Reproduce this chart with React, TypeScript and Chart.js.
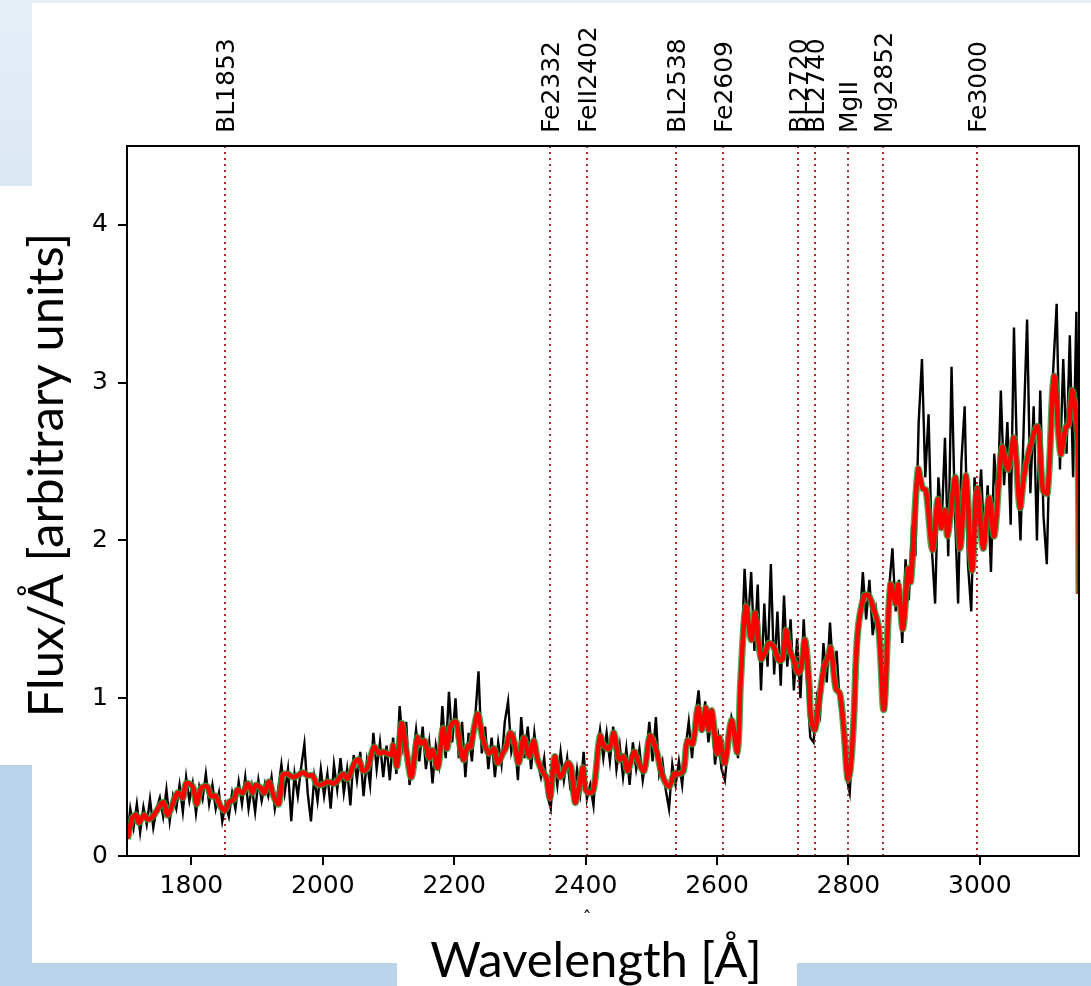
import React, { useEffect, useRef } from "react";
import { Chart, registerables } from "chart.js";

Chart.register(...registerables);

// ---- Data ----
const xTicks = [1800, 2000, 2200, 2400, 2600, 2800, 3000];
const yTicks = [0, 1, 2, 3, 4];

// Observed spectrum, sampled every 5 Å starting at 1702 Å
const obsStart = 1702;
const obsStep = 5;
const obsFlux = [
  0.10, 0.30, 0.18, 0.33, 0.15, 0.31, 0.20, 0.36, 0.18, 0.30,
  0.37, 0.25, 0.42, 0.22, 0.38, 0.30, 0.45, 0.28, 0.50, 0.35,
  0.46, 0.27, 0.44, 0.36, 0.52, 0.33, 0.45, 0.30, 0.40, 0.22,
  0.33, 0.25, 0.40, 0.30, 0.47, 0.33, 0.50, 0.30, 0.44, 0.28,
  0.48, 0.35, 0.46, 0.38, 0.50, 0.30, 0.42, 0.58, 0.40, 0.55,
  0.22, 0.52, 0.38, 0.56, 0.71, 0.40, 0.22, 0.50, 0.35, 0.55,
  0.38, 0.52, 0.30, 0.58, 0.42, 0.62, 0.40, 0.55, 0.32, 0.64,
  0.48, 0.66, 0.38, 0.60, 0.45, 0.78, 0.55, 0.72, 0.50, 0.70,
  0.48, 0.75, 0.52, 0.95, 0.70, 0.85, 0.45, 0.62, 0.80, 0.60,
  0.82, 0.55, 0.72, 0.46, 0.70, 0.58, 0.95, 0.62, 1.04, 0.72,
  1.00, 0.62, 0.85, 0.50, 0.78, 0.60, 0.88, 1.17, 0.65, 0.82,
  0.55, 0.75, 0.50, 0.72, 0.58, 0.85, 0.98, 0.66, 0.75, 0.48,
  0.88, 0.62, 0.82, 0.55, 0.78, 0.60, 0.50, 0.62, 0.38, 0.30,
  0.62, 0.45, 0.66, 0.48, 0.62, 0.42, 0.38, 0.55, 0.40, 0.66,
  0.36, 0.45, 0.32, 0.65, 0.80, 0.62, 0.78, 0.60, 0.82, 0.55,
  0.70, 0.50, 0.68, 0.45, 0.72, 0.55, 0.68, 0.48, 0.62, 0.85,
  0.60, 0.88, 0.52, 0.60, 0.42, 0.30, 0.58, 0.45, 0.60, 0.45,
  0.68, 0.85, 0.62, 0.88, 1.05, 0.78, 0.98, 0.72, 0.90, 0.58,
  0.75, 0.55, 0.48, 0.70, 0.88, 0.80, 0.62, 1.20, 1.82, 1.45,
  1.80, 1.30, 1.72, 1.05, 1.60, 1.20, 1.85, 1.15, 1.55, 1.08,
  1.65, 1.20, 1.50, 1.05, 1.38, 1.00, 1.50, 1.10, 0.75, 0.72,
  1.00, 0.90, 1.35, 1.10, 1.48, 1.15, 1.30, 0.95, 0.82, 0.50,
  0.40, 0.75, 1.20, 1.45, 1.80, 1.50, 1.75, 1.40, 1.55, 1.30,
  1.00, 0.95, 1.70, 1.95, 1.55, 1.75, 1.35, 1.88, 1.62, 2.10,
  1.90, 2.75, 3.15, 2.40, 2.80, 1.95, 1.60, 2.40, 2.10, 2.65,
  1.90, 3.10, 2.20, 1.60, 2.50, 2.85, 1.85, 1.55, 2.40, 2.10,
  2.45, 1.95, 2.35, 1.80, 2.55, 2.20, 2.95, 2.35, 2.75, 2.10,
  3.35, 2.45, 2.00, 2.75, 3.40, 2.30, 2.85, 2.00, 2.95, 2.15,
  1.85, 2.70, 3.10, 3.50, 2.45, 3.15, 2.55, 3.30, 2.40, 3.45,
  1.65,
];

// Model fit (smoothed)
const fitWave = [
  1703, 1710, 1716, 1720, 1728, 1734, 1743, 1757, 1764, 1779, 1787, 1792, 1802, 1808, 1815,
  1824, 1830, 1837, 1845, 1851, 1857, 1865, 1870, 1878, 1886, 1893, 1898, 1906, 1911, 1918,
  1926, 1933, 1939, 1947, 1954, 1962, 1970, 1977, 1985, 1990, 1997, 2008, 2017, 2023, 2031,
  2038, 2048, 2055, 2061, 2068, 2078, 2086, 2093, 2104, 2107, 2113, 2120, 2127, 2135, 2144,
  2149, 2155, 2162, 2167, 2175, 2183, 2189, 2195, 2203, 2207, 2214, 2221, 2225, 2229, 2236,
  2243, 2248, 2253, 2261, 2266, 2274, 2279, 2285, 2291, 2298, 2306, 2314, 2321, 2327, 2335,
  2340, 2346, 2353, 2361, 2373, 2378, 2384, 2390, 2396, 2400, 2408, 2413, 2422, 2428, 2436,
  2443, 2451, 2458, 2464, 2474, 2481, 2489, 2498, 2507, 2517, 2527, 2535, 2542, 2549, 2555,
  2563, 2571, 2577, 2583, 2587, 2592, 2600, 2604, 2612, 2622, 2631, 2636, 2644, 2652, 2658,
  2667, 2674, 2679, 2687, 2694, 2700, 2705, 2711, 2717, 2723, 2728, 2734, 2740, 2743, 2749,
  2755, 2763, 2769, 2773, 2781, 2787, 2793, 2799, 2803, 2808, 2814, 2824, 2831, 2839, 2846,
  2854, 2864, 2872, 2876, 2883, 2891, 2895, 2906, 2913, 2918, 2928, 2936, 2941, 2947, 2951,
  2963, 2970, 2979, 2988, 2996, 3005, 3014, 3022, 3034, 3043, 3052, 3061, 3067, 3075, 3088,
  3096, 3103, 3113, 3123, 3131, 3135, 3141, 3149, 3151,
];
const fitFlux = [
  0.11, 0.24, 0.26, 0.21, 0.26, 0.23, 0.26, 0.34, 0.26, 0.40, 0.37, 0.46, 0.44, 0.33, 0.43,
  0.44, 0.38, 0.38, 0.31, 0.29, 0.34, 0.36, 0.42, 0.40, 0.46, 0.40, 0.45, 0.43, 0.40, 0.47,
  0.37, 0.33, 0.51, 0.52, 0.50, 0.51, 0.53, 0.51, 0.51, 0.46, 0.45, 0.47, 0.46, 0.48, 0.52,
  0.49, 0.59, 0.61, 0.54, 0.56, 0.69, 0.65, 0.66, 0.64, 0.70, 0.57, 0.84, 0.67, 0.50, 0.75,
  0.71, 0.73, 0.62, 0.67, 0.56, 0.81, 0.68, 0.83, 0.85, 0.75, 0.61, 0.70, 0.69, 0.78, 0.90,
  0.75, 0.69, 0.65, 0.68, 0.59, 0.65, 0.69, 0.78, 0.73, 0.59, 0.75, 0.63, 0.73, 0.61, 0.53,
  0.50, 0.37, 0.63, 0.50, 0.59, 0.56, 0.34, 0.44, 0.56, 0.42, 0.40, 0.44, 0.76, 0.70, 0.68,
  0.78, 0.61, 0.63, 0.54, 0.66, 0.59, 0.54, 0.76, 0.68, 0.51, 0.44, 0.52, 0.52, 0.54, 0.73,
  0.71, 0.94, 0.80, 0.94, 0.80, 0.92, 0.65, 0.75, 0.59, 0.86, 0.66, 1.11, 1.58, 1.37, 1.54,
  1.25, 1.30, 1.35, 1.32, 1.24, 1.25, 1.43, 1.30, 1.24, 1.16, 1.19, 1.37, 1.11, 0.88, 0.80,
  0.97, 1.20, 1.26, 1.32, 1.06, 1.03, 0.80, 0.49, 0.55, 0.85, 1.41, 1.65, 1.65, 1.56, 1.45,
  0.93, 1.72, 1.60, 1.72, 1.44, 1.82, 1.74, 2.45, 2.33, 2.32, 1.94, 2.26, 2.08, 2.19, 2.03,
  2.40, 1.95, 2.41, 1.81, 2.33, 1.95, 2.27, 2.03, 2.59, 2.45, 2.65, 2.21, 2.40, 2.57, 2.72,
  2.32, 2.30, 3.04, 2.55, 2.72, 2.73, 2.95, 2.62, 1.66,
];

// Line identifications
const lineLabels = ["BL1853", "Fe2332", "FeII2402", "BL2538", "Fe2609", "BL2720", "BL2740", "MgII", "Mg2852", "Fe3000"];
const lineWaves = [1851, 2346, 2402, 2538, 2609, 2724, 2749, 2800, 2853, 2996];

const xMin = 1702;
const xMax = 3151;
const yMin = 0;
const yMax = 4.5;

const TICK_FONT = "'DejaVu Sans', sans-serif";
const TITLE_FONT = "Lato, 'Open Sans', sans-serif";

export default function App() {
  const canvasRef = useRef<HTMLCanvasElement | null>(null);

  useEffect(() => {
    document.body.style.margin = "0";
    const canvas = canvasRef.current;
    if (!canvas) return;

    const obsData = obsFlux.map((f, i) => ({ x: obsStart + i * obsStep, y: f }));
    const fitData = fitFlux.map((f, i) => ({ x: fitWave[i], y: f }));

    const overlay = {
      id: "overlay",
      afterDatasetsDraw(chart: any) {
        const ctx = chart.ctx;
        const { left, right, top, bottom } = chart.chartArea;
        const xs = chart.scales.x;
        ctx.save();
        // dotted vertical lines
        ctx.strokeStyle = "#b02a2a";
        ctx.lineWidth = 2;
        ctx.setLineDash([2, 4]);
        lineWaves.forEach((w) => {
          const px = Math.round(xs.getPixelForValue(w));
          ctx.beginPath();
          ctx.moveTo(px, top);
          ctx.lineTo(px, bottom);
          ctx.stroke();
        });
        ctx.setLineDash([]);
        // frame
        ctx.strokeStyle = "#000";
        ctx.lineWidth = 2;
        ctx.strokeRect(left, top, right - left, bottom - top);
        // line labels
        ctx.fillStyle = "#000";
        ctx.font = `25px ${TICK_FONT}`;
        ctx.textAlign = "left";
        ctx.textBaseline = "alphabetic";
        lineLabels.forEach((lab, i) => {
          const px = xs.getPixelForValue(lineWaves[i]);
          ctx.save();
          ctx.translate(px + 9, 133);
          ctx.rotate(-Math.PI / 2);
          ctx.fillText(lab, 0, 0);
          ctx.restore();
        });
        // axis titles
        ctx.font = `49px ${TITLE_FONT}`;
        ctx.textAlign = "center";
        ctx.textBaseline = "alphabetic";
        ctx.fillText("Wavelength [Å]", 596, 977);
        ctx.save();
        ctx.translate(63, 475);
        ctx.rotate(-Math.PI / 2);
        ctx.fillText("Flux/Å [arbitrary units]", 0, 0);
        ctx.restore();
        ctx.font = `18px ${TICK_FONT}`;
        ctx.fillText("ˆ", 587, 924);
        ctx.restore();
      },
    };

    const chart = new Chart(canvas, {
      type: "line",
      data: {
        datasets: [
          {
            label: "fit",
            data: fitData,
            borderColor: "#ff0000",
            borderWidth: 4.5,
            pointRadius: 0,
            tension: 0.35,
            fill: false,
            order: 0,
          },
          {
            label: "fit-green",
            data: fitData,
            borderColor: "rgba(60,150,60,0.85)",
            borderWidth: 7,
            pointRadius: 0,
            tension: 0.35,
            fill: false,
            order: 1,
          },
          {
            label: "observed",
            data: obsData,
            borderColor: "#000000",
            borderWidth: 2.4,
            pointRadius: 0,
            tension: 0,
            fill: false,
            order: 2,
          },
        ],
      },
      options: {
        responsive: false,
        animation: false,
        events: [],
        layout: { padding: { left: 0, top: 146, right: 12, bottom: 0 } },
        plugins: { legend: { display: false }, tooltip: { enabled: false } },
        scales: {
          x: {
            type: "linear",
            min: xMin,
            max: xMax,
            afterBuildTicks: (scale: any) => {
              scale.ticks = xTicks.map((v) => ({ value: v }));
            },
            afterFit: (scale: any) => {
              scale.height = 130;
            },
            grid: {
              display: true,
              drawOnChartArea: false,
              drawTicks: true,
              tickLength: 9,
              color: "#000",
              lineWidth: 2,
            },
            border: { display: true, color: "#000", width: 2 },
            ticks: {
              color: "#000",
              font: { family: TICK_FONT, size: 25 },
              padding: 6,
              maxRotation: 0,
              autoSkip: false,
              callback: (v: any) => String(v),
            },
          },
          y: {
            type: "linear",
            min: yMin,
            max: yMax,
            afterBuildTicks: (scale: any) => {
              scale.ticks = yTicks.map((v) => ({ value: v }));
            },
            afterFit: (scale: any) => {
              scale.width = 127;
            },
            grid: {
              display: true,
              drawOnChartArea: false,
              drawTicks: true,
              tickLength: 9,
              color: "#000",
              lineWidth: 2,
            },
            border: { display: true, color: "#000", width: 2 },
            ticks: {
              color: "#000",
              font: { family: TICK_FONT, size: 25 },
              padding: 10,
              autoSkip: false,
              callback: (v: any) => String(v),
            },
          },
        },
      },
      plugins: [overlay],
    });

    return () => chart.destroy();
  }, []);

  return (
    <div style={{ position: "fixed", left: 0, top: 0, width: 1091, height: 986, background: "#fff", overflow: "hidden" }}>
      <div style={{ position: "absolute", left: 0, top: 0, width: 1091, height: 3, background: "#e4eef8" }} />
      <div style={{ position: "absolute", left: 0, top: 0, width: 32, height: 186, background: "linear-gradient(#e6eff8, #dbe7f3)" }} />
      <div style={{ position: "absolute", left: 0, top: 765, width: 32, height: 221, background: "#b8d3ea" }} />
      <div style={{ position: "absolute", left: 0, top: 963, width: 397, height: 23, background: "#b8d3ea" }} />
      <div style={{ position: "absolute", left: 797, top: 963, width: 294, height: 23, background: "#b8d3ea" }} />
      <canvas ref={canvasRef} width={1091} height={986} style={{ position: "absolute", left: 0, top: 0 }} />
    </div>
  );
}
